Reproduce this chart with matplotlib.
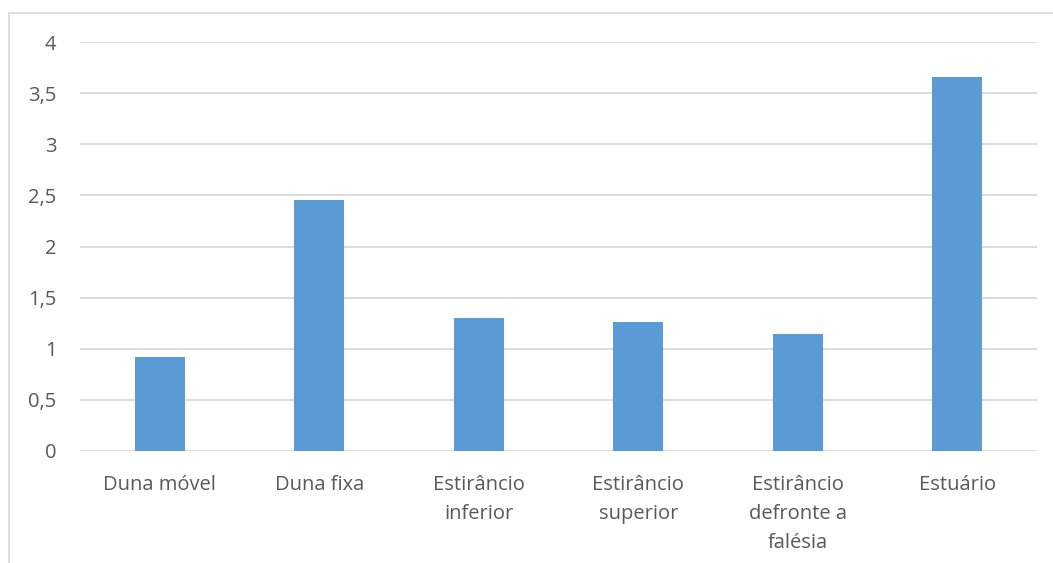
import matplotlib
matplotlib.use("Agg")
import matplotlib.pyplot as plt
from matplotlib.patches import Rectangle

categories = ["Duna móvel", "Duna fixa", "Estirâncio\ninferior", "Estirâncio\nsuperior",
              "Estirâncio\ndefronte a\nfalésia", "Estuário"]
values = [0.92, 2.45, 1.30, 1.26, 1.14, 3.66]
yticks = [0, 0.5, 1, 1.5, 2, 2.5, 3, 3.5, 4]
ytick_labels = ["0", "0,5", "1", "1,5", "2", "2,5", "3", "3,5", "4"]

W, H = 1053, 563
fig = plt.figure(figsize=(W / 100, H / 100), dpi=100)
plt.rcParams['font.family'] = ['Open Sans', 'DejaVu Sans']

# outer chart frame
fig.patches.append(Rectangle((9 / W, -0.1), 1.2, 1 - 13 / H + 0.1, transform=fig.transFigure,
                             fill=False, edgecolor="#D9D9D9", linewidth=1.2))

ax = fig.add_axes([80 / W, 1 - 451 / H, (1037 - 80) / W, (451 - 42) / H])
x = range(len(categories))
ax.bar(x, values, width=0.315, color="#5B9BD5", zorder=3)
ax.set_xlim(-0.5, len(categories) - 0.5)
ax.set_ylim(0, 4)
ax.set_yticks(yticks)
ax.set_yticklabels(ytick_labels)
ax.set_xticks(list(x))
ax.set_xticklabels(categories, linespacing=1.6, va="top")
ax.grid(axis="y", color="#D9D9D9", linewidth=1.3, zorder=0)
for s in ax.spines.values():
    s.set_visible(False)
ax.tick_params(axis="both", length=0, colors="#595959", labelsize=14.5)
ax.tick_params(axis="y", pad=17)
ax.tick_params(axis="x", pad=17)

fig.savefig("out.png", dpi=100)
